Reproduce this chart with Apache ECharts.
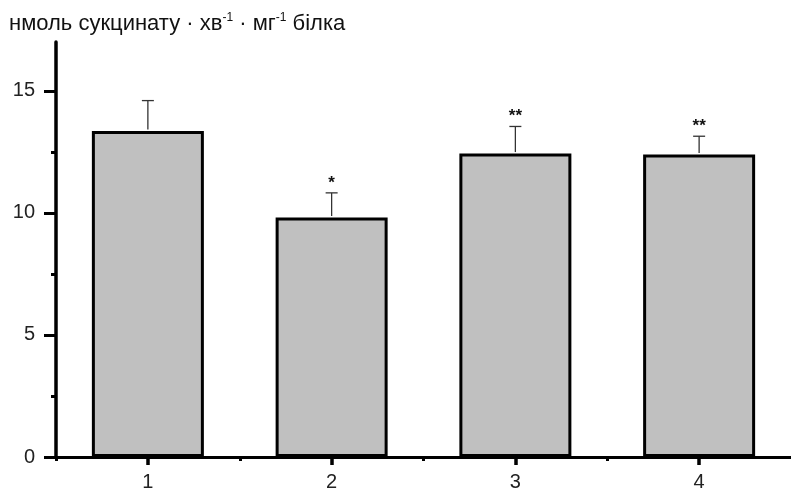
<!DOCTYPE html>
<html>
<head>
<meta charset="utf-8">
<script src="https://cdn.jsdelivr.net/npm/echarts@6/dist/echarts.min.js"></script>
<style>html,body{margin:0;padding:0;background:#fff;}#c{width:791px;height:492px;}</style>
</head>
<body>
<div id="c"></div>
<script>
var categories = [1, 2, 3, 4];
var means = [13.35, 9.81, 12.43, 12.39];
var upper = [14.6, 10.82, 13.54, 13.14];
var marks = ['', '*', '**', '**'];
var yMajorTicks = [0, 5, 10, 15];
var yMinorTicks = [2.5, 7.5, 12.5];
var xMinorTicks = [0.5, 1.5, 2.5, 3.5];

var chart = echarts.init(document.getElementById('c'));
var font = 'Liberation Sans';

var barData = categories.map(function (c, i) { return [c, means[i]]; });
var errData = categories.map(function (c, i) { return [c, means[i], upper[i], marks[i]]; });

chart.setOption({
  animation: false,
  backgroundColor: '#fff',
  title: {
    text: 'нмоль сукцинату · хв{s|-1} · мг{s|-1} білка',
    left: 4, top: 7,
    textStyle: {
      fontFamily: font, fontSize: 22, fontWeight: 'normal', color: '#111',
      lineHeight: 24,
      rich: { s: { fontFamily: font, fontSize: 12, color: '#111', verticalAlign: 'top', lineHeight: 24, padding: [0, 0, 10, 0] } }
    }
  },
  grid: { left: 56, right: -8, top: 42, bottom: 32 },
  xAxis: [{
    type: 'value', min: 0.5, max: 4.5,
    axisLine: { show: true, onZero: false, lineStyle: { color: '#000', width: 3 } },
    axisTick: { show: true, customValues: categories, length: 8, lineStyle: { color: '#000', width: 3.5 } },
    axisLabel: { customValues: categories, margin: 15, fontFamily: font, fontSize: 20, color: '#222' },
    splitLine: { show: false }
  }, {
    type: 'value', min: 0.5, max: 4.5, position: 'bottom',
    axisLine: { show: false },
    axisTick: { show: true, customValues: xMinorTicks, length: 4, lineStyle: { color: '#000', width: 3 } },
    axisLabel: { show: false },
    splitLine: { show: false }
  }],
  yAxis: [{
    type: 'value', min: 0, max: 17,
    axisLine: { show: true, onZero: false, lineStyle: { color: '#000', width: 3.5 } },
    axisTick: { show: true, customValues: yMajorTicks, length: 12, lineStyle: { color: '#000', width: 3 } },
    axisLabel: { customValues: yMajorTicks, margin: 21, fontFamily: font, fontSize: 20, color: '#222' },
    splitLine: { show: false }
  }, {
    type: 'value', min: 0, max: 17, position: 'left',
    axisLine: { show: false },
    axisTick: { show: true, customValues: yMinorTicks, length: 5, lineStyle: { color: '#000', width: 3 } },
    axisLabel: { show: false },
    splitLine: { show: false }
  }],
  series: [{
    type: 'bar',
    xAxisIndex: 0, yAxisIndex: 0,
    data: barData,
    barWidth: 112,
    itemStyle: { color: '#c0c0c0', borderColor: '#000', borderWidth: 3 },
    z: 2
  }, {
    type: 'custom',
    xAxisIndex: 0, yAxisIndex: 0,
    data: errData,
    z: 3,
    renderItem: function (params, api) {
      var x = api.value(0);
      var p0 = api.coord([x, api.value(1)]);
      var p1 = api.coord([x, api.value(2)]);
      var mark = errData[params.dataIndex][3];
      return {
        type: 'group',
        children: [{
          type: 'line',
          shape: { x1: p0[0], y1: p0[1] - 1.5, x2: p1[0], y2: p1[1] },
          style: { stroke: '#333', lineWidth: 1.3 }
        }, {
          type: 'line',
          shape: { x1: p1[0] - 6, y1: p1[1], x2: p1[0] + 6, y2: p1[1] },
          style: { stroke: '#333', lineWidth: 1.3 }
        }, {
          type: 'text',
          style: {
            text: mark, x: p1[0], y: p1[1] - 10,
            align: 'center', verticalAlign: 'middle',
            fontFamily: font, fontSize: 17, fontWeight: 'bold', fill: '#111'
          }
        }]
      };
    }
  }]
});
</script>
</body>
</html>
